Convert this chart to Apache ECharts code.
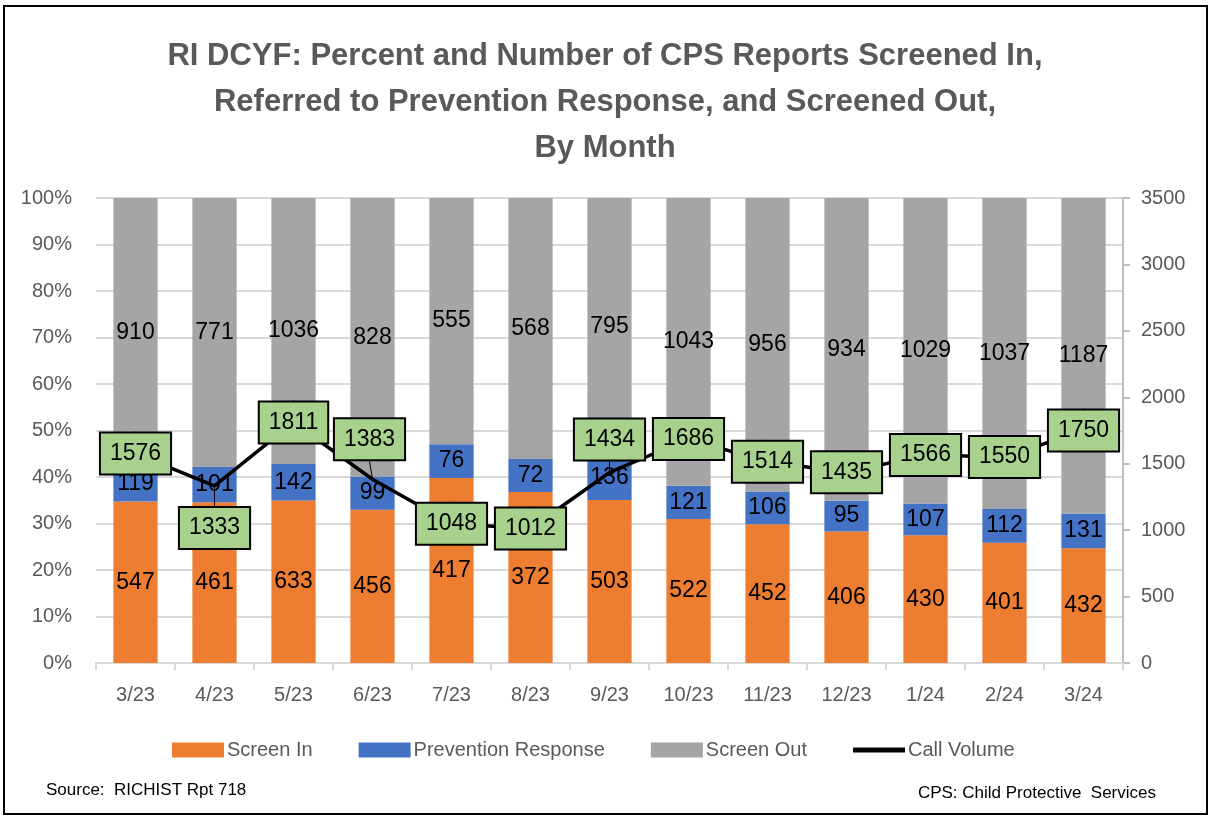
<!DOCTYPE html>
<html>
<head>
<meta charset="utf-8">
<script src="https://cdn.jsdelivr.net/npm/echarts@6/dist/echarts.min.js"></script>
<style>
  html, body { margin: 0; padding: 0; background: #fff; }
  #chart { width: 1210px; height: 817px; }
</style>
</head>
<body>
<div id="chart"></div>
<script>
var months = ["3/23", "4/23", "5/23", "6/23", "7/23", "8/23", "9/23", "10/23", "11/23", "12/23", "1/24", "2/24", "3/24"];
var screenIn = [547, 461, 633, 456, 417, 372, 503, 522, 452, 406, 430, 401, 432];
var prevention = [119, 101, 142, 99, 76, 72, 136, 121, 106, 95, 107, 112, 131];
var screenOut = [910, 771, 1036, 828, 555, 568, 795, 1043, 956, 934, 1029, 1037, 1187];
var callVolume = [1576, 1333, 1811, 1383, 1048, 1012, 1434, 1686, 1514, 1435, 1566, 1550, 1750];
var pctTicks = [0, 100, 10];
var countTicks = [0, 3500, 500];

var font = "Liberation Sans";
var grey = "#595959";

// share of each month's total, bars show the share, labels show the count
function pct(arr) {
  return arr.map(function (v, i) {
    return (v / (screenIn[i] + prevention[i] + screenOut[i])) * 100;
  });
}

// call volume labels that Excel moved off the point
var labelShift = { 1: [0, 42], 3: [-3, -40], 6: [0, -33] };

var chart = echarts.init(document.getElementById("chart"));

function barSeries(name, arr, color) {
  return {
    name: name,
    type: "bar",
    stack: "all",
    barWidth: "56%",
    data: pct(arr),
    itemStyle: { color: color },
    label: {
      show: true,
      position: "inside",
      color: "#000",
      fontFamily: font,
      fontSize: 23,
      formatter: function (p) {
        return arr[p.dataIndex];
      },
    },
  };
}

var option = {
  animation: false,
  textStyle: { fontFamily: font },
  title: {
    text: "RI DCYF: Percent and Number of CPS Reports Screened In,\nReferred to Prevention Response, and Screened Out,\nBy Month",
    left: 605,
    top: 33,
    padding: 0,
    textAlign: "center",
    textStyle: {
      fontFamily: font,
      fontSize: 31,
      fontWeight: "bold",
      color: grey,
      lineHeight: 46,
    },
  },
  grid: { left: 96, right: 87, top: 198, bottom: 154 },
  legend: {
    left: 172,
    top: 740,
    padding: 0,
    itemWidth: 52,
    itemHeight: 15,
    itemGap: 46,
    textStyle: { fontFamily: font, fontSize: 20, color: grey, padding: [0, 0, 0, -2] },
    data: [
      { name: "Screen In", icon: "rect" },
      { name: "Prevention Response", icon: "rect" },
      { name: "Screen Out", icon: "rect" },
      { name: "Call Volume", icon: "path://M0,0H52V5H0Z", itemStyle: { color: "#000" } },
    ],
  },
  xAxis: {
    type: "category",
    data: months,
    axisLine: { lineStyle: { color: "#D9D9D9", width: 2 } },
    axisTick: { show: true, length: 7, lineStyle: { color: "#D9D9D9", width: 2 } },
    axisLabel: { color: grey, fontSize: 20, fontFamily: font, margin: 22 },
  },
  yAxis: [
    {
      type: "value",
      min: pctTicks[0],
      max: pctTicks[1],
      interval: pctTicks[2],
      axisLine: { show: false },
      axisTick: { show: false },
      splitLine: { lineStyle: { color: "#D9D9D9", width: 2 } },
      axisLabel: { color: grey, fontSize: 20, fontFamily: font, margin: 24, formatter: "{value}%" },
    },
    {
      type: "value",
      min: countTicks[0],
      max: countTicks[1],
      interval: countTicks[2],
      position: "right",
      axisLine: { show: true, lineStyle: { color: "#BFBFBF", width: 2 } },
      axisTick: { show: true, length: 7, lineStyle: { color: "#BFBFBF", width: 2 } },
      splitLine: { show: false },
      axisLabel: {
        color: grey,
        fontSize: 20,
        fontFamily: font,
        margin: 18,
        formatter: function (v) {
          return String(v);
        },
      },
    },
  ],
  series: [
    barSeries("Screen In", screenIn, "#ED7D31"),
    barSeries("Prevention Response", prevention, "#4472C4"),
    barSeries("Screen Out", screenOut, "#A5A5A5"),
    {
      name: "Call Volume",
      type: "line",
      yAxisIndex: 1,
      data: callVolume,
      symbol: "circle",
      symbolSize: 1,
      showSymbol: true,
      z: 5,
      lineStyle: { color: "#000", width: 3.5 },
      itemStyle: { color: "#000" },
      label: {
        show: true,
        position: "inside",
        color: "#000",
        fontFamily: font,
        fontSize: 23,
        lineHeight: 28,
        backgroundColor: "#A9D18E",
        borderColor: "#000",
        borderWidth: 2,
        padding: [6, 9],
      },
      labelLine: { show: true, lineStyle: { color: "#000", width: 1 } },
      labelLayout: function (p) {
        var s = labelShift[p.dataIndex];
        return s ? { dx: s[0], dy: s[1] } : {};
      },
    },
  ],
  graphic: [
    {
      type: "rect",
      shape: { x: 4, y: 6, width: 1203, height: 808 },
      style: { fill: "none", stroke: "#000", lineWidth: 2 },
      silent: true,
    },
    {
      type: "text",
      left: 46,
      top: 782,
      style: { text: "Source:  RICHIST Rpt 718", font: "17px " + font, fill: "#000" },
    },
    {
      type: "text",
      right: 54,
      top: 785,
      style: { text: "CPS: Child Protective  Services", font: "17px " + font, fill: "#000" },
    },
  ],
};

chart.setOption(option);
</script>
</body>
</html>
